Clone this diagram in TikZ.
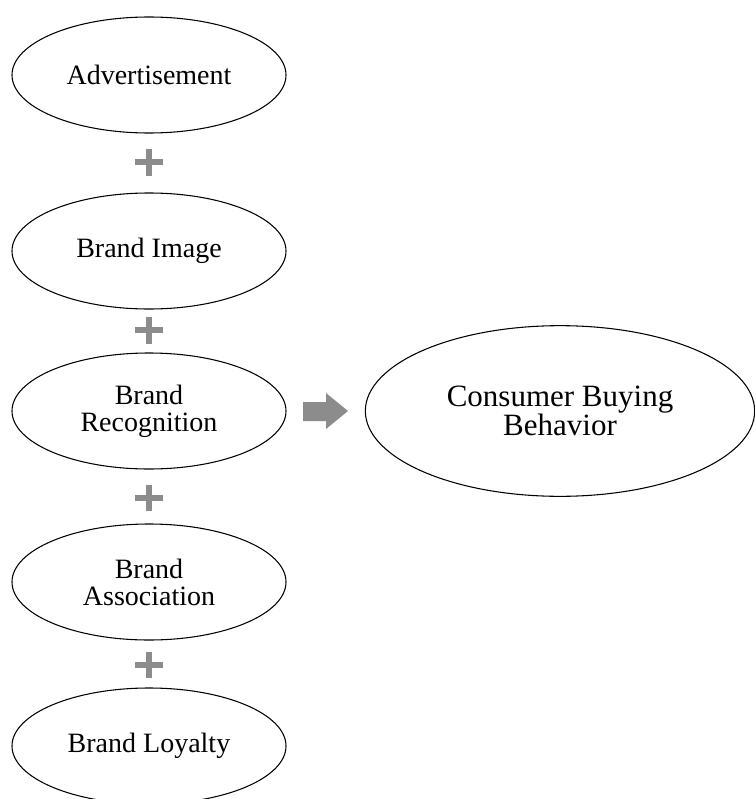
\documentclass[tikz,border=0pt]{standalone}
\usepackage{fontspec}
\setmainfont{Liberation Serif}
\usetikzlibrary{shapes.geometric}
\definecolor{markgray}{RGB}{140,140,140}

\begin{document}
\begin{tikzpicture}[x=0.75pt,y=0.75pt,yscale=-1]

    \useasboundingbox (0,0) rectangle (755,799);
    \tikzset{
        factor/.style={ellipse, draw, line width=0.8pt, inner sep=0pt, align=center,
            minimum width=205.5pt, minimum height=87pt,
            font=\fontsize{21}{20.25}\selectfont},
        outcome/.style={ellipse, draw, line width=0.8pt, inner sep=0pt, align=center,
            minimum width=292pt, minimum height=128pt,
            font=\fontsize{23.25}{21.75}\selectfont},
        plusbar/.style={draw=markgray, line width=4.5pt}
    }

    \draw (149,75)  node [factor] (adv)   {Advertisement};
    \draw (149,251) node [factor] (image) {Brand Image};
    \draw (149,411) node [factor] (recog) {Brand\\Recognition};
    \draw (149,582) node [factor] (assoc) {Brand\\Association};
    \draw (149,746) node [factor] (loyal) {Brand Loyalty};
    \draw (560,411) node [outcome] (cbb)  {Consumer Buying\\Behavior};

    \draw [plusbar] (135,162) -- (163,162);
    \draw [plusbar] (149,149) -- (149,176);
    \draw [plusbar] (135,330) -- (163,330);
    \draw [plusbar] (149,317) -- (149,344);
    \draw [plusbar] (135,498) -- (163,498);
    \draw [plusbar] (149,485) -- (149,511);
    \draw [plusbar] (135,665) -- (163,665);
    \draw [plusbar] (149,652) -- (149,678);

    \fill [markgray] (303,402) -- (326,402) -- (326,393) -- (348,411) -- (326,429) -- (326,421) -- (303,421) -- cycle;

\end{tikzpicture}
\end{document}
